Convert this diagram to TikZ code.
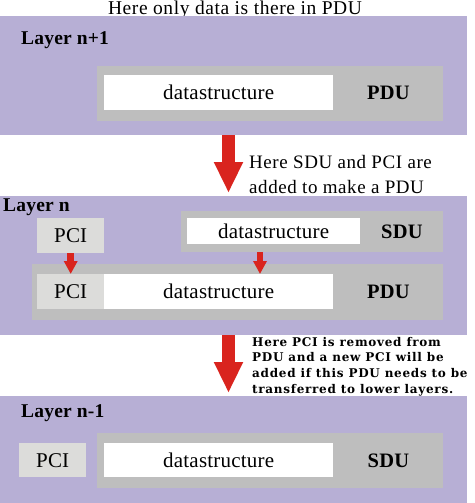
\documentclass[tikz,border=0pt]{standalone}
\usepackage{fontspec}
\setmainfont{Liberation Serif}[LetterSpace=1]
\newfontfamily\notefont{Liberation Serif}[LetterSpace=3]
\newfontfamily\tinynotefont{DejaVu Serif}[LetterSpace=6]
\usetikzlibrary{arrows.meta}
\usetikzlibrary{positioning,calc}
\definecolor{layerfill}{RGB}{183,175,213}
\definecolor{unitgray}{RGB}{190,190,190}
\definecolor{pcigray}{RGB}{220,220,218}
\definecolor{arrowred}{RGB}{217,36,30}
\tikzset{
    layerband/.style={fill=layerfill, inner sep=0, anchor=north west},
    unitbox/.style={fill=unitgray, inner sep=0, anchor=north west},
    databox/.style={fill=white, inner sep=0, anchor=north west, font=\fontsize{21}{24}\selectfont},
    pcibox/.style={fill=pcigray, inner sep=0, anchor=north west, font=\fontsize{21}{24}\selectfont},
    unitlabel/.style={inner sep=0, font=\fontsize{20.5}{24}\selectfont\bfseries},
    layerlabel/.style={inner sep=0, anchor=base west, font=\fontsize{19.5}{22}\selectfont\bfseries},
    bigarrow/.style={draw=arrowred, line width=13pt, -{Triangle[width=27pt,length=31pt]}},
    smallarrow/.style={draw=arrowred, line width=6.5pt, -{Triangle[width=13pt,length=13pt]}}
}
\begin{document}
\begin{tikzpicture}[x=1pt,y=-1pt]
        \def\bandw{467pt}
        \def\arrowx{228.5}
        \def\dropx{260}
        \useasboundingbox (0,0) rectangle (474,503);
        \node [anchor=base, inner sep=0, font=\notefont\fontsize{19.5}{22}\selectfont] (title) at (235,15) {Here only data is there in PDU};
        % layer n+1
        \node [layerband, minimum width=\bandw, minimum height=119pt] (band1) at (0,16) {};
        \node [layerlabel] (layer1) at (21,45) {Layer n+1};
        \node [unitbox, minimum width=346pt, minimum height=55pt] (pdubox1) at (97,66) {};
        \node [databox, minimum width=229pt, minimum height=35pt] (data1) at (104,75) {datastructure};
        \node [unitlabel] (pdulabel1) at ($(data1.east)!0.5!(pdubox1.east)$) {PDU};
        % layer n
        \node [layerband, minimum width=\bandw, minimum height=139pt] (band2) at (0,196) {};
        \node [layerlabel] (layer2) at (3,211) {Layer n};
        \node [pcibox, minimum width=67pt, minimum height=35pt] (pcin) at (37,218) {PCI};
        \node [unitbox, minimum width=262pt, minimum height=41pt] (sdubox) at (181,211) {};
        \node [databox, minimum width=173pt, minimum height=26pt] (sdudata) at (187,218) {datastructure};
        \node [unitlabel] (sdulabel) at ($(sdudata.east)!0.5!(sdubox.east)$) {SDU};
        \node [unitbox, minimum width=411pt, minimum height=56pt] (pdubox2) at (32,264) {};
        \node [pcibox, minimum width=67pt, minimum height=35pt] (pcipdu) at (37,274) {PCI};
        \node [databox, minimum width=229pt, minimum height=35pt] (pdudata) at (104,274) {datastructure};
        \node [unitlabel] (pdulabel2) at ($(pdudata.east)!0.5!(pdubox2.east)$) {PDU};
        % layer n-1
        \node [layerband, minimum width=\bandw, minimum height=107pt] (band3) at (0,396) {};
        \node [layerlabel] (layer3) at (21,417) {Layer n-1};
        \node [pcibox, minimum width=67pt, minimum height=34pt] (pci3) at (19,443) {PCI};
        \node [unitbox, minimum width=346pt, minimum height=55pt] (sdubox3) at (97,433) {};
        \node [databox, minimum width=229pt, minimum height=34pt] (data3) at (104,443) {datastructure};
        \node [unitlabel] (sdulabel3) at ($(data3.east)!0.5!(sdubox3.east)$) {SDU};
        % arrows
        \coordinate (arrowcol) at (\arrowx,0);
        \coordinate (dropcol) at (\dropx,0);
        \draw [bigarrow, shorten >=3pt] (band1.south -| arrowcol) -- (band2.north -| arrowcol);
        \draw [bigarrow, shorten >=3pt] (band2.south -| arrowcol) -- (band3.north -| arrowcol);
        \draw [smallarrow] (pcin.south) -- (pcipdu.north);
        \draw [smallarrow] (sdubox.south -| dropcol) -- (pdudata.north -| dropcol);
        % notes
        \foreach[count=\i] \txt in {Here SDU and PCI are, added to make a PDU}
        {
            \node [anchor=base west, inner sep=0, font=\notefont\fontsize{19}{22}\selectfont] (notea\i) at (249,{168+25*(\i-1)}) {\txt};
        }
        \foreach[count=\i] \txt in {Here PCI is removed from, PDU and a new PCI will be, added if this PDU needs to be, transferred to lower layers.}
        {
            \node [anchor=base west, inner sep=0, font=\tinynotefont\fontsize{12}{15}\selectfont\bfseries] (noteb\i) at (252,{346+15.7*(\i-1)}) {\txt};
        }
\end{tikzpicture}
\end{document}
